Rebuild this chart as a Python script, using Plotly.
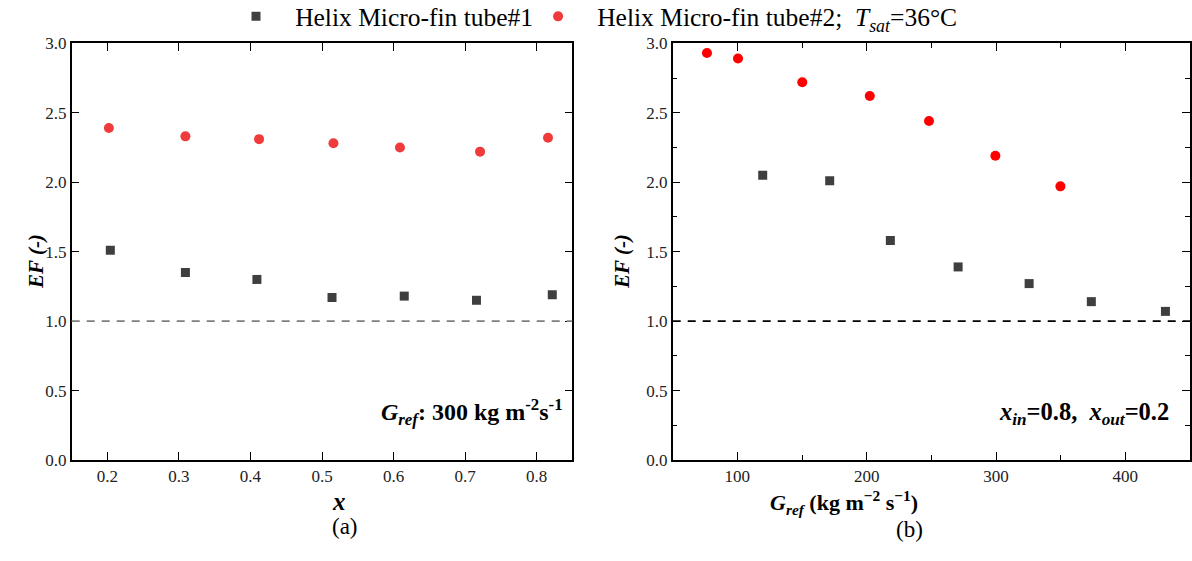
import plotly.graph_objects as go

# ---------------- data ----------------
# panel (a): EF vs vapour quality x, G_ref = 300
x_a_tube1 = [0.204, 0.309, 0.409, 0.514, 0.615, 0.716, 0.822]
ef_a_tube1 = [1.51, 1.35, 1.30, 1.17, 1.18, 1.15, 1.19]
x_a_tube2 = [0.202, 0.309, 0.412, 0.516, 0.609, 0.721, 0.816]
ef_a_tube2 = [2.39, 2.33, 2.31, 2.28, 2.25, 2.22, 2.32]

# panel (b): EF vs mass flux G_ref
g_b_tube1 = [119.6, 171.4, 218.3, 270.7, 325.6, 373.7, 431.0]
ef_b_tube1 = [2.05, 2.01, 1.58, 1.39, 1.27, 1.14, 1.07]
g_b_tube2 = [76.5, 100.5, 150.2, 202.4, 248.2, 299.5, 349.8]
ef_b_tube2 = [2.93, 2.89, 2.72, 2.62, 2.44, 2.19, 1.97]

ref_line = 1.0
y_ticks = [0.0, 0.5, 1.0, 1.5, 2.0, 2.5, 3.0]
xa_ticks = [0.2, 0.3, 0.4, 0.5, 0.6, 0.7, 0.8]
xb_ticks = [100, 200, 300, 400]

FONT = "Liberation Serif, Times New Roman, DejaVu Serif, serif"
W, H = 1192, 561
SQ_COLOR = "#3f3f3f"
RED_A = "#ef3b3b"
RED_B = "#ff0000"
PAD = "&nbsp;&nbsp;&nbsp;"

fig = go.Figure()

fig.add_trace(go.Scatter(x=x_a_tube1, y=ef_a_tube1, mode="markers", xaxis="x", yaxis="y",
                         name=PAD + "Helix Micro-fin tube#1",
                         marker=dict(symbol="square", size=9, color=SQ_COLOR)))
fig.add_trace(go.Scatter(x=x_a_tube2, y=ef_a_tube2, mode="markers", xaxis="x", yaxis="y",
                         name=PAD + "Helix Micro-fin tube#2;  <i>T</i><sub><i>sat</i></sub>=36°C",
                         marker=dict(symbol="circle", size=10, color=RED_A)))
fig.add_trace(go.Scatter(x=g_b_tube1, y=ef_b_tube1, mode="markers", xaxis="x2", yaxis="y2",
                         showlegend=False,
                         marker=dict(symbol="square", size=9, color=SQ_COLOR)))
fig.add_trace(go.Scatter(x=g_b_tube2, y=ef_b_tube2, mode="markers", xaxis="x2", yaxis="y2",
                         showlegend=False,
                         marker=dict(symbol="circle", size=10, color=RED_B)))

def px_x(p):
    return p / W

def px_y(p):
    return 1 - p / H

y_dom = [px_y(460), px_y(43.3)]
common_axis = dict(showline=True, linecolor="black", linewidth=1.5, mirror="ticks",
                   ticks="inside", ticklen=8, tickwidth=1.3, tickcolor="black",
                   showgrid=False, zeroline=False,
                   tickfont=dict(family=FONT, size=17, color="#222222"))

fig.update_layout(
    width=W, height=H,
    margin=dict(l=0, r=0, t=0, b=0, autoexpand=False),
    paper_bgcolor="white", plot_bgcolor="white",
    font=dict(family=FONT, color="black"),
    xaxis=dict(domain=[px_x(71.7), px_x(572.3)], range=[0.15, 0.85],
               tickvals=xa_ticks, ticktext=[f"{v:.1f}" for v in xa_ticks],
               anchor="y", **common_axis),
    yaxis=dict(domain=y_dom, range=[0, 3], tickvals=y_ticks,
               ticktext=[f"{v:.1f}" for v in y_ticks], anchor="x", **common_axis),
    xaxis2=dict(domain=[px_x(672.7), px_x(1190)], range=[50, 450],
                tickvals=xb_ticks, ticktext=[str(v) for v in xb_ticks], anchor="y2",
                minor=dict(dtick=50, tick0=50, ticks="inside", ticklen=5,
                           tickwidth=1.3, tickcolor="black"),
                **common_axis),
    yaxis2=dict(domain=y_dom, range=[0, 3], tickvals=y_ticks,
                ticktext=[f"{v:.1f}" for v in y_ticks], anchor="x2",
                minor=dict(dtick=0.25, tick0=0, ticks="inside", ticklen=5,
                           tickwidth=1.3, tickcolor="black"),
                **common_axis),
    legend=dict(orientation="h", x=px_x(236), xanchor="left", y=1.012, yanchor="top",
                font=dict(family=FONT, size=25.5, color="black"),
                itemsizing="trace", bgcolor="rgba(0,0,0,0)", traceorder="normal",
                itemwidth=30),
    showlegend=True,
)

# reference lines at EF = 1
fig.add_shape(type="line", xref="x domain", yref="y", x0=0, x1=1, y0=ref_line, y1=ref_line,
              line=dict(color="#7f7f7f", width=1.8, dash="8px,7px"))
fig.add_shape(type="line", xref="x2 domain", yref="y2", x0=0, x1=1, y0=ref_line, y1=ref_line,
              line=dict(color="black", width=1.8, dash="8px,7px"))

ann = []
# y-axis titles
ann.append(dict(x=px_x(22), y=px_y(262), xref="paper", yref="paper", textangle=-90,
                text="<b><i>EF (-)</i></b>", showarrow=False,
                font=dict(family=FONT, size=21, color="black")))
ann.append(dict(x=px_x(622), y=px_y(262), xref="paper", yref="paper", textangle=-90,
                text="<b><i>EF (-)</i></b>", showarrow=False,
                font=dict(family=FONT, size=21, color="black")))
# x-axis titles
ann.append(dict(x=px_x(330), y=px_y(517), xref="paper", yref="paper",
                text="<b><i>x</i></b>", showarrow=False,
                font=dict(family=FONT, size=25, color="black")))
ann.append(dict(x=px_x(330), y=px_y(541), xref="paper", yref="paper",
                text="(a)", showarrow=False,
                font=dict(family=FONT, size=23, color="black")))
ann.append(dict(x=px_x(920), y=px_y(520), xref="paper", yref="paper",
                text="<b><i>G</i><sub><i>ref</i></sub> (kg m<sup>\u22122</sup> s<sup>\u22121</sup>)</b>",
                showarrow=False, font=dict(family=FONT, size=22, color="black")))
ann.append(dict(x=px_x(925), y=px_y(544), xref="paper", yref="paper",
                text="(b)", showarrow=False,
                font=dict(family=FONT, size=23, color="black")))
# in-panel notes
ann.append(dict(x=px_x(565), y=px_y(431), xref="paper", yref="paper", xanchor="right",
                text="<b><i>G</i><sub><i>ref</i></sub>: 300 kg m<sup>-2</sup>s<sup>-1</sup></b>",
                showarrow=False, font=dict(family=FONT, size=24, color="black")))
ann.append(dict(x=px_x(1171), y=px_y(431), xref="paper", yref="paper", xanchor="right",
                text="<b><i>x</i><sub><i>in</i></sub>=0.8,  <i>x</i><sub><i>out</i></sub>=0.2</b>",
                showarrow=False, font=dict(family=FONT, size=24.5, color="black")))
fig.update_layout(annotations=ann)

fig.write_html("out.html")
